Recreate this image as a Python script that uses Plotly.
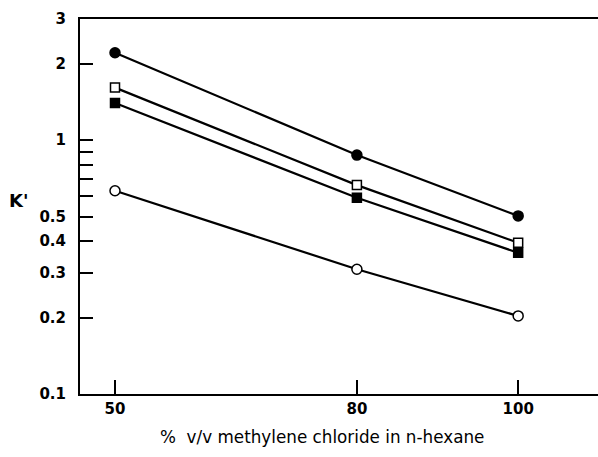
import math
import plotly.graph_objects as go

x_pct = [50, 80, 100]
filled_circle = [2.21, 0.873, 0.503]
open_square = [1.61, 0.665, 0.394]
filled_square = [1.40, 0.593, 0.360]
open_circle = [0.632, 0.310, 0.203]

y_tickvals = [0.1, 0.2, 0.3, 0.4, 0.5, 0.6, 0.7, 0.8, 0.9, 1, 2, 3]
y_ticktext = ["0.1", "0.2", "0.3", "0.4", "0.5", "", "", "", "", "1", "2", "3"]
x_tickvals = [50, 80, 100]

series = [
    (filled_circle, "circle", "black"),
    (open_square, "square", "white"),
    (filled_square, "square", "black"),
    (open_circle, "circle", "white"),
]

fig = go.Figure()
for vals, sym, fill in series:
    fig.add_trace(go.Scatter(
        x=x_pct, y=vals, mode="lines+markers",
        line=dict(color="black", width=2.2),
        marker=dict(symbol=sym, size=10 if sym == "circle" else 9, color=fill,
                    line=dict(color="black", width=1.5)),
        showlegend=False,
    ))

font = "DejaVu Sans, Liberation Sans, Arial, sans-serif"
fig.update_layout(
    width=598, height=457,
    margin=dict(l=80, r=0, t=19, b=63),
    paper_bgcolor="white", plot_bgcolor="white",
    font=dict(family=font, color="black"),
    xaxis=dict(
        range=[45.66, 109.9], tickvals=x_tickvals,
        ticks="inside", ticklen=14, tickwidth=2, tickcolor="black",
        showline=True, linecolor="black", linewidth=2, mirror=True,
        showgrid=False, zeroline=False,
        tickfont=dict(size=15, weight="bold", family=font),
    ),
    yaxis=dict(
        type="log", range=[-1, math.log10(3)],
        tickvals=y_tickvals, ticktext=y_ticktext,
        ticks="inside", ticklen=13, tickwidth=2, tickcolor="black",
        showline=True, linecolor="black", linewidth=2,
        showgrid=False, zeroline=False,
        ticklabelstandoff=9,
        tickfont=dict(size=15, weight="bold", family=font),
    ),
    annotations=[
        dict(text="K'", xref="paper", yref="paper", x=(18 - 80) / 518, y=(394 - 200) / 375,
             xanchor="center", yanchor="middle", showarrow=False,
             font=dict(size=18, weight="bold", family=font)),
        dict(text="%  v/v methylene chloride in n-hexane", xref="paper", yref="paper",
             x=(322 - 80) / 518, y=-(437 - 394) / 375, xanchor="center", yanchor="middle",
             showarrow=False, font=dict(size=16.8, family=font)),
    ],
)
fig.write_html("out.html")
